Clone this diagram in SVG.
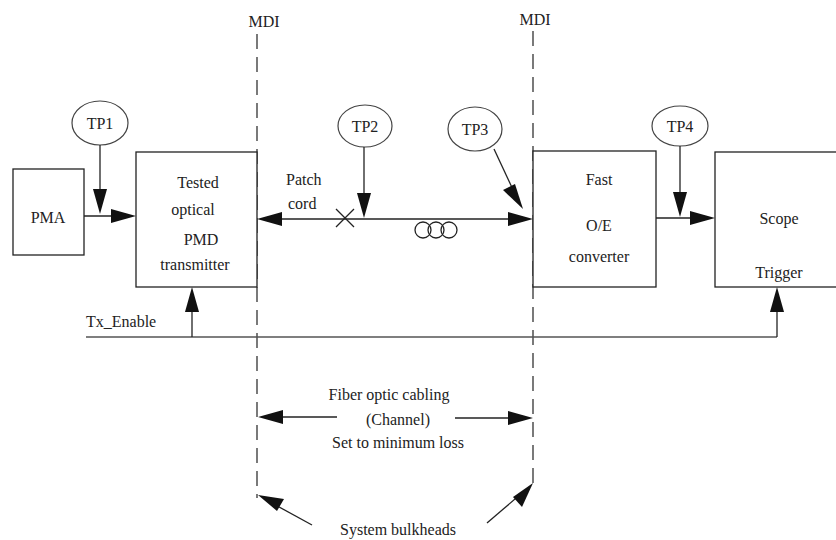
<svg xmlns="http://www.w3.org/2000/svg" width="836" height="540" viewBox="0 0 836 540">
<style>
text{font-family:"Liberation Serif","Times New Roman",serif;font-size:16px;fill:#222}
.c{text-anchor:middle}
.box{fill:#fff;stroke:#222;stroke-width:1.3}
.ln{fill:none;stroke:#222;stroke-width:1.3}
.ah{fill:#111;stroke:none}
.tp{fill:#fff;stroke:#444;stroke-width:1.2}
.dash{fill:none;stroke:#222;stroke-width:1.2;stroke-dasharray:15 8}
</style>
<g id="mdi-left"><text class="c" x="264" y="27">MDI</text><path class="dash" d="M257,34 V498"/></g>
<g id="mdi-right"><text class="c" x="535" y="25">MDI</text><path class="dash" d="M533,31 V484"/></g>
<g id="pma"><rect class="box" x="13" y="169" width="71" height="86"/><text class="c" x="48" y="223">PMA</text></g>
<g id="tx"><rect class="box" x="136" y="152" width="121" height="135"/>
<text class="c" x="198" y="188">Tested</text><text class="c" x="193" y="215">optical</text><text class="c" x="201" y="245">PMD</text><text class="c" x="195" y="270">transmitter</text></g>
<g id="oe"><rect class="box" x="533" y="151" width="123" height="136"/>
<text class="c" x="599" y="185">Fast</text><text class="c" x="599" y="231">O/E</text><text class="c" x="599" y="262">converter</text></g>
<g id="scope"><rect class="box" x="715" y="152" width="125" height="135"/>
<text class="c" x="779" y="224">Scope</text><text class="c" x="779" y="278">Trigger</text></g>
<g id="tp1"><ellipse class="tp" cx="100" cy="123" rx="28" ry="22"/><text class="c" x="100" y="129">TP1</text></g>
<g id="tp2"><ellipse class="tp" cx="365" cy="126" rx="27" ry="21"/><text class="c" x="365" y="132">TP2</text></g>
<g id="tp3"><ellipse class="tp" cx="475" cy="129" rx="27" ry="22"/><text class="c" x="475" y="135">TP3</text></g>
<g id="tp4"><ellipse class="tp" cx="680" cy="126" rx="28" ry="20"/><text class="c" x="680" y="132">TP4</text></g>
<g id="labels">
<text x="286" y="185">Patch</text><text x="288" y="209">cord</text>
<text x="86" y="327">Tx_Enable</text>
<text class="c" x="389" y="400">Fiber optic cabling</text>
<text class="c" x="398" y="425">(Channel)</text>
<text class="c" x="398" y="448">Set to minimum loss</text>
<text class="c" x="398" y="535">System bulkheads</text>
</g>
<g id="fiber">
<path class="ln" d="M336,209 L354,227 M336,227 L354,209"/>
<circle class="ln" cx="423" cy="230" r="8"/><circle class="ln" cx="436" cy="230" r="8"/><circle class="ln" cx="449" cy="230" r="8"/>
</g>
<g id="connectors">
<path class="ln" d="M100,145 V200"/><path class="ah" d="M100,214 L93,189 L107,189 z"/>
<path class="ln" d="M84,216 H120"/><path class="ah" d="M136,216 L111,209 L111,223 z"/>
<path class="ln" d="M270,219 H520"/>
<path class="ah" d="M257,219 L282,212 L282,226 z"/>
<path class="ah" d="M533,219 L508,212 L508,226 z"/>
<path class="ln" d="M364,147 V200"/><path class="ah" d="M364,218 L357,193 L371,193 z"/>
<path class="ln" d="M494,149 L515,194"/><path class="ah" d="M523,209 L503,190 L515,184 z"/>
<path class="ln" d="M680,146 V200"/><path class="ah" d="M680,217 L673,192 L687,192 z"/>
<path class="ln" d="M656,218 H700"/><path class="ah" d="M715,218 L690,211 L690,225 z"/>
<path d="M86,337 H777" fill="none" stroke="#555" stroke-width="1.3"/>
<path class="ln" d="M192,337 V300"/><path class="ah" d="M192,287 L185,312 L199,312 z"/>
<path class="ln" d="M777,337 V300"/><path class="ah" d="M777,287 L770,312 L784,312 z"/>
<path class="ln" d="M337,417 H270"/><path class="ah" d="M258,417 L283,410 L283,424 z"/>
<path class="ln" d="M455,418 H520"/><path class="ah" d="M533,418 L508,411 L508,425 z"/>
<path class="ln" d="M312,525 L270,502"/><path class="ah" d="M258,495 L277,511 L284,499 z"/>
<path class="ln" d="M487,523 L522,493"/><path class="ah" d="M533,483 L513,497 L522,507 z"/>
</g>
</svg>
